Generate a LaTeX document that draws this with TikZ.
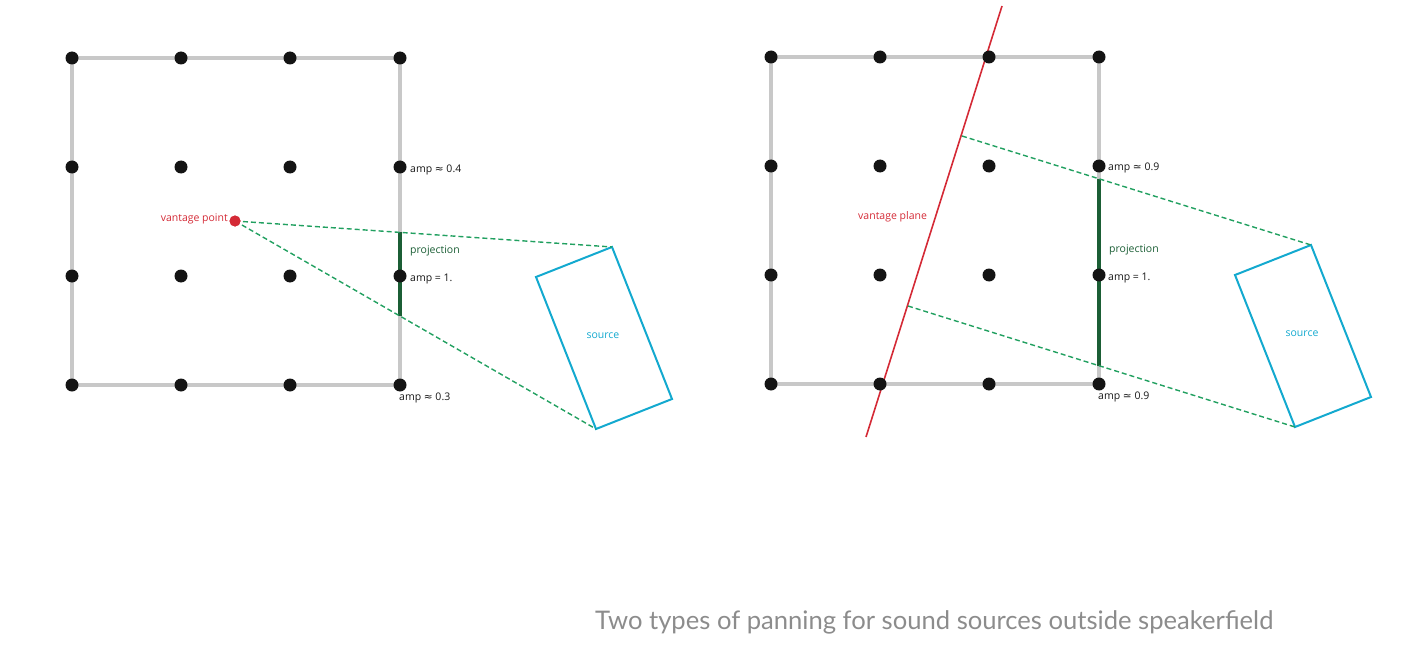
\documentclass[tikz,border=0pt]{standalone}
\usepackage{fontspec}
\setmainfont{Open Sans}
\newfontfamily\capfont{Lato}
\newfontfamily\symfont{DejaVu Sans}
\definecolor{gridgray}{HTML}{C8C8C8}
\definecolor{vred}{HTML}{D42A36}
\definecolor{dgreen}{HTML}{21A060}
\definecolor{pgreen}{HTML}{1B5E35}
\definecolor{srccyan}{HTML}{13A9CF}
\definecolor{capgray}{HTML}{8C8C8C}
\tikzset{
  gridline/.style={draw=gridgray, line width=4pt},
  spk/.style={circle, fill=black!92, inner sep=0pt, minimum size=13pt},
  vdot/.style={circle, fill=vred, inner sep=0pt, minimum size=11pt},
  lab/.style={font=\fontsize{10.5}{12}\selectfont, inner sep=0pt, anchor=west, text=black!90},
  projlab/.style={lab, text=pgreen},
  ray/.style={draw=dgreen, line width=1.4pt, dash pattern=on 5pt off 3pt},
  proj/.style={draw=pgreen, line width=3.5pt},
  src/.style={draw=srccyan, line width=2pt, line join=miter},
  srclab/.style={font=\fontsize{10.5}{12}\selectfont, text=srccyan, inner sep=0pt},
  plane/.style={draw=vred, line width=1.6pt}
}
\begin{document}
\begin{tikzpicture}[x=1pt,y=-1pt]
\useasboundingbox (0,0) rectangle (1403,650);
% ---------- left diagram ----------
\foreach \i/\x in {1/72,2/181,3/290,4/400}
  \foreach \j/\y in {1/58,2/167,3/276,4/385}
    \coordinate (L\i\j) at (\x,\y);
\draw[gridline] (L11) rectangle (L44);
\coordinate (lp1) at (400,232.4);
\coordinate (lp2) at (400,316);
\draw[proj] (lp1) -- (lp2);
\coordinate (ls1) at (536,277);
\coordinate (ls2) at (612,247);
\coordinate (ls3) at (672,399);
\coordinate (ls4) at (596,429);
\draw[src] (ls1) -- (ls2) -- (ls3) -- (ls4) -- cycle;
\node[srclab] (lsrc) at (603,336) {source};
\node[vdot] (vp) at (235,221) {};
\draw[ray] (vp.center) -- (ls2);
\draw[ray] (vp.center) -- (ls4);
\node[vdot] at (235,221) {};
\foreach \i in {1,2,3,4}
  \foreach \j in {1,2,3,4}
    \node[spk] (dL\i\j) at (L\i\j) {};
\node[lab, text=vred, anchor=east] (vplab) at (228,219) {vantage point};
\node[lab] (la1) at (410,170) {amp {\symfont≈} 0.4};
\node[projlab] (lpl) at (410,251) {projection};
\node[lab] (la2) at (410,279) {amp = 1.};
\node[lab] (la3) at (399,398) {amp {\symfont≈} 0.3};
% ---------- right diagram ----------
\foreach \i/\x in {1/771,2/880,3/989,4/1099}
  \foreach \j/\y in {1/57,2/166,3/275,4/384}
    \coordinate (R\i\j) at (\x,\y);
\draw[gridline] (R11) rectangle (R44);
\coordinate (rp1) at (1099,178.8);
\coordinate (rp2) at (1099,365.6);
\draw[proj] (rp1) -- (rp2);
\coordinate (rs1) at (1235,275);
\coordinate (rs2) at (1311,245);
\coordinate (rs3) at (1371,397);
\coordinate (rs4) at (1295,427);
\draw[src] (rs1) -- (rs2) -- (rs3) -- (rs4) -- cycle;
\node[srclab] (rsrc) at (1302,334) {source};
\coordinate (pl1) at (1002,6);
\coordinate (pl2) at (866,437);
\draw[plane] (pl1) -- (pl2);
\coordinate (pa) at (962,136);
\coordinate (pb) at (908,306);
\draw[ray] (pa) -- (rs2);
\draw[ray] (pb) -- (rs4);
\foreach \i in {1,2,3,4}
  \foreach \j in {1,2,3,4}
    \node[spk] (dR\i\j) at (R\i\j) {};
\node[lab, text=vred] (vplab2) at (858,217) {vantage plane};
\node[lab] (ra1) at (1108,168) {amp {\symfont≃} 0.9};
\node[projlab] (rpl) at (1109,250) {projection};
\node[lab] (ra2) at (1108,278) {amp = 1.};
\node[lab] (ra3) at (1098,397) {amp {\symfont≃} 0.9};
% ---------- caption ----------
\node[anchor=base west, inner sep=0pt, text=capgray, font=\capfont\fontsize{25.6}{30}\selectfont] (cap) at (595,629) {Two types of panning for sound sources outside speakerfield};
\end{tikzpicture}
\end{document}
